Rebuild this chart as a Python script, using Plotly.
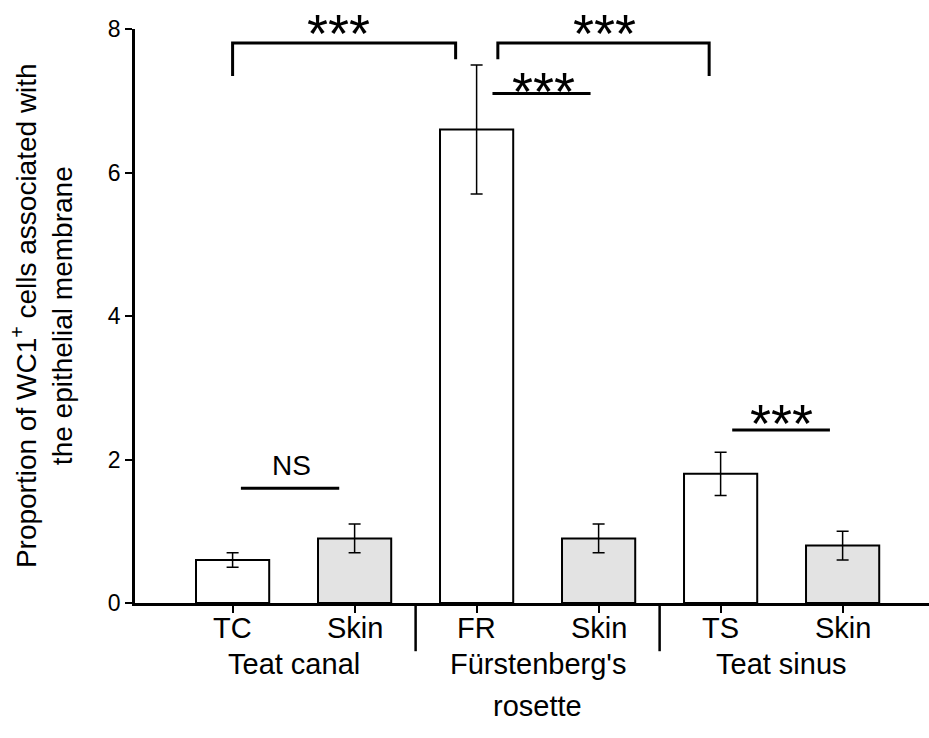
import plotly.graph_objects as go

# Bar categories, means and standard errors
labels = ["TC", "Skin", "FR", "Skin", "TS", "Skin"]
means = [0.6, 0.9, 6.6, 0.9, 1.8, 0.8]
errors = [0.1, 0.2, 0.9, 0.2, 0.3, 0.2]
tissue = ["epithelium", "skin", "epithelium", "skin", "epithelium", "skin"]

# Anatomical regions, each spanning one pair of bars
groups = ["Teat canal", "Fürstenberg's<br>rosette", "Teat sinus"]
y_ticks = [0, 2, 4, 6, 8]

FONT = "Liberation Sans, Arial, sans-serif"
fill_for = {"epithelium": "white", "skin": "#e3e3e3"}
x = list(range(len(labels)))
Y_MAX = 8

fig = go.Figure()
fig.add_bar(
    x=x,
    y=means,
    width=0.6,
    marker=dict(color=[fill_for[t] for t in tissue],
                line=dict(color="black", width=2)),
    error_y=dict(type="data", array=errors, color="black",
                 thickness=1.5, width=6),
    showlegend=False,
)

shapes = []
annotations = []


def line(x0, x1, y, width=3):
    shapes.append(dict(type="line", xref="x", yref="y", x0=x0, x1=x1,
                       y0=y, y1=y, line=dict(color="black", width=width)))


def stars(xc, yc, text="***"):
    # paper coordinates so the marks above the top of the axis stay visible
    annotations.append(dict(xref="x", yref="paper", x=xc, y=yc / Y_MAX,
                            text=text, showarrow=False, xanchor="center",
                            yanchor="middle", yshift=-12,
                            font=dict(family=FONT, size=54, color="black")))


def bracket(xa, ya, xb, yb, ytop):
    shapes.append(dict(type="path", xref="x", yref="y",
                       path=f"M {xa},{ya} L {xa},{ytop} L {xb},{ytop} L {xb},{yb}",
                       line=dict(color="black", width=3)))


# Within-region comparisons
line(0.068, 0.874, 1.60)
annotations.append(dict(xref="x", yref="y", x=0.48, y=1.91, text="NS",
                        showarrow=False, xanchor="center", yanchor="middle",
                        font=dict(family=FONT, size=28, color="black")))
line(2.13, 2.934, 7.10)
stars(2.546, 7.31)
line(4.095, 4.896, 2.41)
stars(4.5, 2.67)

# Between-region comparisons
bracket(0.0, 7.345, 1.828, 7.58, 7.806)
stars(0.871, 8.11)
bracket(2.174, 7.58, 3.906, 7.345, 7.806)
stars(3.048, 8.11)

# Category labels under each bar
for xi, lab in zip(x, labels):
    annotations.append(dict(xref="x", yref="paper", x=xi, y=-0.0432,
                            text=lab, showarrow=False, xanchor="center",
                            yanchor="middle",
                            font=dict(family=FONT, size=29, color="black")))

# Region separators below the axis and region names
for k in range(1, len(groups)):
    xs = 2 * k - 0.5
    shapes.append(dict(type="line", xref="x", yref="paper", x0=xs, x1=xs,
                       y0=0, y1=-0.084, line=dict(color="black", width=2.5)))
for k, name in enumerate(groups):
    for j, part in enumerate(name.split("<br>")):
        annotations.append(dict(xref="x", yref="paper", x=2 * k + 0.5,
                                y=-0.107 - j * 0.073, text=part,
                                showarrow=False, xanchor="center",
                                yanchor="middle",
                                font=dict(family=FONT, size=29, color="black")))

# Y-axis title
annotations.append(dict(
    xref="paper", yref="paper", x=-0.117, y=0.5, textangle=-90,
    text="Proportion of WC1<sup>+</sup> cells associated with<br>the epithelial membrane",
    showarrow=False, xanchor="center", yanchor="middle",
    font=dict(family=FONT, size=28, color="black")))

fig.update_layout(
    width=929, height=738,
    margin=dict(l=135, r=0, t=29, b=135),
    plot_bgcolor="white", paper_bgcolor="white",
    font=dict(family=FONT, color="black"),
    shapes=shapes, annotations=annotations,
    xaxis=dict(range=[-0.8, 5.708], tickvals=x, showticklabels=False,
               ticks="outside", ticklen=7, tickwidth=1.5, tickcolor="black",
               showline=True, linewidth=3, linecolor="black",
               showgrid=False, zeroline=False),
    yaxis=dict(range=[0, Y_MAX], tickvals=y_ticks,
               ticks="outside", ticklen=7, tickwidth=1.5, tickcolor="black",
               showline=True, linewidth=2.5, linecolor="black",
               showgrid=False, zeroline=False,
               tickfont=dict(family=FONT, size=23, color="black")),
)

fig.write_html("out.html")
